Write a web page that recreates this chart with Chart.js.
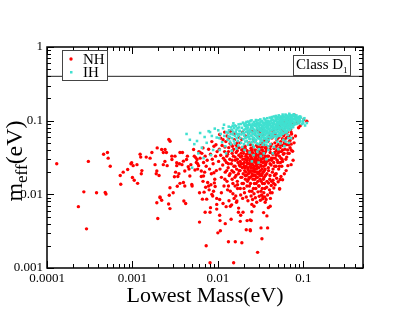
<!DOCTYPE html>
<html>
<head>
<meta charset="utf-8">
<script src="https://cdn.jsdelivr.net/npm/chart.js@4.4.0/dist/chart.umd.min.js"></script>
<style>
  html, body { margin: 0; padding: 0; background: #fff; }
  #wrap { width: 409px; height: 316px; position: relative; }
</style>
</head>
<body>
<div id="wrap"><canvas id="grafico"></canvas></div>
<script>
// Eixos (valores e rótulos)
const xTickValues = [0.0001, 0.001, 0.01, 0.1];
const xTickLabels = ['0.0001', '0.001', '0.01', '0.1'];
const yTickValues = [0.001, 0.01, 0.1, 1];
const yTickLabels = ['0.001', '0.01', '0.1', '1'];
const seriesNames = ['NH', 'IH'];
const limiteMeff = 0.4;

// [massa mais leve (eV), m_eff (eV)]
const nhPoints = [
  [0.00013,0.026],[0.000233,0.0068],[0.00027,0.0108],[0.00029,0.0034],[0.000305,0.028],[0.00038,0.0105],
  [0.00046,0.035],[0.00048,0.0106],[0.00049,0.0101],[0.00051,0.037],[0.00052,0.031],[0.00055,0.024],
  [0.00072,0.018],[0.00073,0.0137],[0.00078,0.020],[0.00088,0.0217],[0.00096,0.026],[0.0010,0.0169],
  [0.00102,0.0245],[0.00098,0.0268],[0.00113,0.0253],[0.00115,0.0141],[0.00105,0.0155],[0.00123,0.035],
  [0.00125,0.032],[0.00129,0.021],[0.00127,0.019],[0.00145,0.032],[0.00161,0.031],[0.00169,0.037],
  [0.00184,0.0253],[0.00193,0.0077],[0.00195,0.0427],[0.00198,0.0047],[0.00193,0.0207],[0.0019,0.019],
  [0.00205,0.018],[0.00211,0.009],[0.0022,0.0083],[0.0022,0.0406],[0.0021,0.0092],[0.0023,0.037],
  [0.0023,0.0253],[0.0024,0.028],[0.00241,0.0406],[0.0025,0.037],[0.00255,0.0245],[0.00265,0.0074],
  [0.00267,0.0554],[0.0027,0.0097],[0.00275,0.0064],[0.00275,0.0123],[0.00276,0.0526],[0.00289,0.033],
  [0.0029,0.0297],[0.0030,0.0105],[0.0031,0.0173],[0.00315,0.033],[0.0032,0.020],[0.0033,0.0245],
  [0.0033,0.0268],[0.00335,0.0129],[0.00355,0.026],[0.0036,0.0141],[0.0036,0.037],[0.0035,0.019],
  [0.0034,0.0175],[0.00385,0.037],[0.0038,0.0253],[0.00395,0.0282],[0.00395,0.0145],[0.0040,0.0081],
  [0.0041,0.0207],[0.0041,0.013],[0.0042,0.0075],[0.0043,0.0297],[0.0044,0.033],[0.0045,0.0237],
  [0.0046,0.022],[0.0047,0.0177],[0.00483,0.0253],[0.00495,0.0136],[0.0050,0.013],[0.0052,0.0406],
  [0.0053,0.033],[0.0054,0.0214],[0.0055,0.0315],[0.0057,0.0297],[0.0058,0.026],[0.00595,0.0245],
  [0.0061,0.0042],[0.0062,0.037],[0.0064,0.0207],[0.0066,0.0086],[0.0067,0.0427],[0.0068,0.0177],
  [0.0069,0.0107],[0.0071,0.0057],[0.0073,0.002],[0.0074,0.0086],[0.0078,0.013],[0.0081,0.00118],
  [0.0082,0.0066],[0.0085,0.010],[0.0090,0.0196],[0.0091,0.0143],[0.0097,0.0073],[0.010,0.003],
  [0.0105,0.0052],[0.0107,0.0032],
  [0.0153,0.00118],[0.0133,0.00227],[0.016,0.00227],[0.0191,0.0022],[0.0215,0.0033],[0.024,0.0032],
  [0.0292,0.00163],[0.0106,0.0044],[0.0122,0.004],[0.0143,0.0046],[0.0183,0.0043],[0.0197,0.0057],
  [0.025,0.0058],[0.0246,0.0044],[0.022,0.0044],[0.0328,0.0025],[0.0382,0.0035],[0.032,0.0035],
  [0.0239,0.0045],[0.0239,0.0033],
  [0.0081,0.0057],[0.0097,0.0063],[0.014,0.0069],[0.0167,0.0081],[0.0174,0.0057],[0.0185,0.0052],
  [0.0343,0.00565],[0.0375,0.0051],[0.039,0.0066],[0.0358,0.0078],[0.041,0.0069],[0.0265,0.0069],
  [0.025,0.0073],[0.0337,0.0093],[0.0367,0.0085],[0.0528,0.0119],[0.0412,0.0105],[0.045,0.0141],
  [0.0537,0.0159],[0.047,0.0187],[0.056,0.0241],[0.072,0.0253],[0.076,0.029],
  [0.0062,0.031],[0.0065,0.036],[0.0068,0.027],[0.0071,0.033],[0.0073,0.024],[0.0075,0.029],
  [0.0078,0.041],[0.0080,0.022],[0.0082,0.035],[0.0084,0.019],[0.0086,0.030],[0.0088,0.026],
  [0.0090,0.045],[0.0092,0.016],[0.0094,0.033],[0.0096,0.021],[0.0098,0.038],[0.0067,0.015],
  [0.0072,0.0125],[0.0079,0.0115],[0.0087,0.0095],[0.0093,0.0128],[0.0064,0.0175],[0.0070,0.020],
  [0.0076,0.0145],[0.0083,0.0135],[0.0089,0.011],[0.0097,0.0088],[0.0061,0.0105],[0.0058,0.022],
  [0.0056,0.027],[0.0060,0.038],
  [0.0102,0.028],[0.0104,0.041],[0.0106,0.022],[0.0108,0.034],[0.0110,0.017],[0.0112,0.046],
  [0.0114,0.025],[0.0116,0.031],[0.0118,0.013],[0.0120,0.038],[0.0122,0.020],[0.0124,0.052],
  [0.0126,0.027],[0.0128,0.015],[0.0130,0.035],[0.0132,0.023],[0.0134,0.043],[0.0136,0.018],
  [0.0138,0.030],[0.0140,0.011],[0.0142,0.048],[0.0144,0.026],[0.0146,0.021],[0.0148,0.039],
  [0.0150,0.014],[0.0152,0.033],[0.0154,0.024],[0.0156,0.055],[0.0158,0.017],[0.0160,0.029],
  [0.0162,0.0095],[0.0164,0.037],[0.0166,0.022],[0.0168,0.044],[0.0170,0.012],[0.0172,0.027],
  [0.0174,0.019],[0.0176,0.034],[0.0178,0.025],[0.0105,0.0085],[0.0115,0.0075],[0.0125,0.0068],
  [0.0135,0.0082],[0.0145,0.0072],[0.0155,0.0088],[0.0165,0.0078],[0.0175,0.0065],[0.0110,0.0105],
  [0.0130,0.0115],[0.0150,0.0102],[0.0170,0.0135],[0.0108,0.058],[0.0128,0.062],[0.0148,0.045],
  [0.0168,0.050],
  [0.0182,0.021],[0.0184,0.032],[0.0186,0.017],[0.0188,0.026],[0.0190,0.040],[0.0192,0.014],
  [0.0194,0.023],[0.0196,0.030],[0.0198,0.019],[0.0200,0.036],[0.0202,0.012],[0.0204,0.027],
  [0.0206,0.021],[0.0208,0.045],[0.0210,0.016],[0.0212,0.033],[0.0214,0.024],[0.0216,0.018],
  [0.0218,0.029],[0.0220,0.039],[0.0222,0.015],[0.0224,0.022],[0.0226,0.031],[0.0228,0.019],
  [0.0230,0.026],[0.0232,0.050],[0.0234,0.013],[0.0236,0.035],[0.0238,0.020],[0.0240,0.028],
  [0.0242,0.017],[0.0244,0.042],[0.0246,0.023],[0.0248,0.031],[0.0250,0.011],[0.0252,0.019],
  [0.0254,0.037],[0.0256,0.025],[0.0258,0.016],[0.0260,0.029],[0.0262,0.055],[0.0264,0.021],
  [0.0266,0.033],[0.0268,0.014],[0.0270,0.024],[0.0272,0.040],[0.0274,0.018],[0.0276,0.027],
  [0.0278,0.012],[0.0280,0.034],[0.0282,0.022],[0.0284,0.046],[0.0286,0.017],[0.0288,0.030],
  [0.0290,0.020],[0.0292,0.038],[0.0294,0.015],[0.0296,0.026],[0.0298,0.060],[0.0300,0.023],
  [0.0302,0.032],[0.0304,0.013],[0.0306,0.019],[0.0308,0.043],[0.0310,0.028],[0.0312,0.016],
  [0.0314,0.036],[0.0316,0.021],[0.0318,0.025],[0.0320,0.011],[0.0322,0.050],[0.0324,0.030],
  [0.0326,0.018],[0.0328,0.034],[0.0330,0.022],[0.0332,0.040],[0.0334,0.014],[0.0336,0.027],
  [0.0338,0.065],[0.0340,0.020],[0.0342,0.031],[0.0344,0.024],[0.0346,0.047],[0.0348,0.017],
  [0.0350,0.036],[0.0352,0.028],[0.0354,0.012],[0.0356,0.055],[0.0358,0.022],[0.0360,0.033],
  [0.0185,0.0098],[0.0195,0.0088],[0.0205,0.0105],[0.0215,0.0092],[0.0225,0.0082],[0.0235,0.0110],
  [0.0245,0.0095],[0.0255,0.0085],[0.0265,0.0102],[0.0275,0.0090],[0.0285,0.0078],[0.0295,0.0108],
  [0.0305,0.0094],[0.0315,0.0083],[0.0325,0.0098],[0.0335,0.0087],[0.0345,0.0105],[0.0355,0.0092],
  [0.0190,0.056],[0.0210,0.062],[0.0230,0.068],[0.0250,0.072],[0.0270,0.066],[0.0290,0.075],
  [0.0310,0.070],[0.0330,0.078],
  [0.0203,0.024],[0.0213,0.020],[0.0223,0.026],[0.0233,0.017],[0.0243,0.021],[0.0253,0.027],
  [0.0263,0.018],[0.0273,0.022],[0.0283,0.026],[0.0293,0.019],[0.0207,0.030],[0.0217,0.035],
  [0.0227,0.023],[0.0237,0.029],[0.0247,0.026],[0.0257,0.021],[0.0267,0.029],[0.0277,0.032],
  [0.0287,0.024],[0.0297,0.029],[0.0187,0.036],[0.0197,0.043],[0.0239,0.038],[0.0259,0.044],
  [0.0279,0.039],[0.0299,0.034],[0.0319,0.040],[0.0339,0.037],[0.0359,0.043],
  [0.0365,0.026],[0.0370,0.041],[0.0375,0.019],[0.0380,0.033],[0.0385,0.052],[0.0390,0.023],
  [0.0395,0.029],[0.0400,0.064],[0.0405,0.016],[0.0410,0.037],[0.0415,0.045],[0.0420,0.025],
  [0.0425,0.031],[0.0430,0.058],[0.0435,0.020],[0.0440,0.035],[0.0445,0.072],[0.0450,0.027],
  [0.0455,0.042],[0.0460,0.018],[0.0465,0.050],[0.0470,0.031],[0.0475,0.066],[0.0480,0.024],
  [0.0485,0.039],[0.0490,0.055],[0.0495,0.029],[0.0500,0.078],[0.0505,0.036],[0.0510,0.047],
  [0.0515,0.022],[0.0520,0.060],[0.0525,0.033],[0.0530,0.085],[0.0535,0.043],[0.0540,0.027],
  [0.0545,0.052],[0.0550,0.068],[0.0555,0.038],[0.0560,0.090],[0.0565,0.030],[0.0570,0.057],
  [0.0575,0.046],[0.0580,0.074],[0.0585,0.035],[0.0590,0.063],[0.0595,0.095],[0.0600,0.050],
  [0.0610,0.041],[0.0620,0.080],[0.0630,0.058],[0.0640,0.032],[0.0650,0.070],[0.0660,0.088],
  [0.0670,0.047],[0.0680,0.062],[0.0690,0.100],[0.0700,0.054],[0.0710,0.076],[0.0720,0.040],
  [0.0730,0.066],[0.0740,0.093],[0.0750,0.058],
  [0.0372,0.0125],[0.0382,0.0098],[0.0392,0.0142],[0.0402,0.0115],[0.0412,0.0088],[0.0422,0.0132],
  [0.0432,0.0105],[0.0442,0.0155],[0.0452,0.0122],[0.0468,0.0135],[0.0488,0.0165],[0.0508,0.0148],
  [0.0528,0.0118],[0.0548,0.0175],[0.0572,0.0158],[0.0600,0.0190],[0.0630,0.0210],[0.0660,0.0245],
  [0.0785,0.120],[0.101,0.103],[0.110,0.098],[0.0838,0.093],[0.088,0.080],[0.081,0.062],
  [0.078,0.050],[0.075,0.0385],[0.092,0.085],[0.070,0.043],[0.066,0.036],
  // núcleo denso
  [0.0121,0.016],[0.0121,0.029],[0.0121,0.044],[0.0127,0.021],[0.0127,0.033],[0.0133,0.013],
  [0.0133,0.026],[0.0133,0.038],[0.0139,0.019],[0.0139,0.049],[0.0147,0.016],[0.0147,0.029],
  [0.0147,0.036],[0.0153,0.020],[0.0153,0.041],[0.0159,0.013],[0.0159,0.024],[0.0159,0.032],
  [0.0163,0.018],[0.0163,0.047],[0.0169,0.015],[0.0169,0.030],[0.0169,0.039],[0.0177,0.021],
  [0.0177,0.043],[0.0183,0.012],[0.0183,0.024],[0.0183,0.028],[0.0183,0.050],[0.0191,0.017],
  [0.0191,0.033],[0.0199,0.014],[0.0199,0.026],[0.0199,0.039],[0.0209,0.018],[0.0209,0.023],
  [0.0209,0.042],[0.0219,0.013],[0.0219,0.027],[0.0219,0.032],[0.0229,0.016],[0.0229,0.021],
  [0.0229,0.037],[0.0241,0.014],[0.0241,0.024],[0.0241,0.033],[0.0241,0.047],[0.0251,0.018],
  [0.0251,0.029],[0.0251,0.040],[0.0261,0.012],[0.0261,0.023],[0.0261,0.035],[0.0271,0.016],
  [0.0271,0.020],[0.0271,0.030],[0.0271,0.052],[0.0281,0.014],[0.0281,0.028],[0.0281,0.037],
  [0.0291,0.017],[0.0291,0.023],[0.0291,0.044],[0.0301,0.013],[0.0301,0.020],[0.0301,0.027],
  [0.0301,0.039],[0.0311,0.018],[0.0311,0.032],[0.0311,0.048],[0.0321,0.015],[0.0321,0.024],
  [0.0321,0.028],[0.0331,0.012],[0.0331,0.019],[0.0331,0.035],[0.0331,0.044],[0.0341,0.016],
  [0.0341,0.027],[0.0341,0.053],[0.0351,0.014],[0.0351,0.021],[0.0351,0.031],[0.0361,0.018],
  [0.0361,0.025],[0.0361,0.038],[0.0376,0.015],[0.0376,0.028],[0.0376,0.045],[0.0392,0.021],
  [0.0392,0.033],[0.0392,0.058],[0.0408,0.018],[0.0408,0.026],[0.0408,0.041],[0.0425,0.015],
  [0.0425,0.029],[0.0425,0.048],[0.0443,0.022],[0.0443,0.031],[0.0443,0.062],[0.0462,0.024],
  [0.0462,0.037],[0.0482,0.019],[0.0482,0.034],[0.0482,0.045],[0.0503,0.027],[0.0503,0.041],
  [0.0503,0.058],[0.0525,0.024],[0.0525,0.038],[0.0548,0.031],[0.0548,0.047],[0.0548,0.075],
  [0.0572,0.028],[0.0572,0.040],[0.0597,0.036],[0.0597,0.055],[0.0625,0.030],[0.0625,0.047],
  [0.0625,0.068],[0.0655,0.040],[0.0655,0.060],[0.0685,0.036],[0.0685,0.052],[0.0685,0.085],
  [0.0720,0.048],[0.0720,0.070],
  [0.0085,0.052],[0.0095,0.047],[0.0105,0.065],[0.0115,0.055],[0.0135,0.058],[0.0155,0.066],
  [0.0175,0.060],[0.0195,0.070],[0.0120,0.070],[0.0140,0.072]
];

const ihPoints = [
  [0.0043,0.066],[0.0047,0.055],[0.0050,0.023],[0.0053,0.048],[0.0057,0.053],[0.0062,0.068],
  [0.0065,0.043],[0.0070,0.060],[0.0074,0.050],[0.0078,0.072],[0.0081,0.070],[0.0085,0.062],
  [0.0088,0.040],[0.0092,0.078],[0.0097,0.059],[0.0059,0.036],[0.0068,0.031],[0.0083,0.034],
  [0.0101,0.074],[0.0104,0.058],[0.0108,0.066],[0.0112,0.051],[0.0115,0.079],[0.0119,0.062],
  [0.0122,0.045],[0.0126,0.070],[0.0130,0.055],[0.0134,0.083],[0.0138,0.060],[0.0142,0.048],
  [0.0146,0.075],[0.0150,0.065],[0.0154,0.053],[0.0158,0.086],[0.0162,0.070],[0.0166,0.058],
  [0.0170,0.079],[0.0174,0.046],[0.0178,0.066],[0.0105,0.040],[0.0125,0.036],[0.0145,0.039],
  [0.0165,0.042],[0.0118,0.088],[0.0152,0.092],
  [0.0181,0.072],[0.0183,0.058],[0.0185,0.090],[0.0187,0.050],[0.0189,0.065],[0.0191,0.080],
  [0.0193,0.044],[0.0195,0.069],[0.0197,0.094],[0.0199,0.056],[0.0201,0.075],[0.0204,0.062],
  [0.0207,0.085],[0.0210,0.052],[0.0213,0.070],[0.0216,0.096],[0.0219,0.060],[0.0222,0.078],
  [0.0225,0.047],[0.0228,0.066],[0.0231,0.088],[0.0234,0.057],[0.0237,0.074],[0.0240,0.099],
  [0.0243,0.063],[0.0246,0.082],[0.0249,0.051],[0.0252,0.069],[0.0255,0.091],[0.0258,0.059],
  [0.0261,0.077],[0.0264,0.044],[0.0267,0.066],[0.0270,0.085],[0.0273,0.055],[0.0276,0.073],
  [0.0279,0.102],[0.0282,0.062],[0.0285,0.080],[0.0288,0.049],[0.0291,0.069],[0.0294,0.092],
  [0.0297,0.058],[0.0300,0.076],[0.0304,0.041],[0.0308,0.065],[0.0312,0.087],[0.0316,0.054],
  [0.0320,0.072],[0.0324,0.098],[0.0328,0.061],[0.0332,0.081],[0.0336,0.047],[0.0340,0.068],
  [0.0344,0.090],[0.0348,0.057],[0.0352,0.075],[0.0356,0.104],[0.0360,0.064],[0.0364,0.083],
  [0.0368,0.052],[0.0372,0.070],[0.0376,0.094],[0.0380,0.060],[0.0384,0.078],[0.0388,0.045],
  [0.0392,0.066],[0.0396,0.087],
  [0.0205,0.040],[0.0235,0.037],[0.0262,0.034],[0.0290,0.038],[0.0318,0.033],[0.0345,0.036],
  [0.0370,0.030],[0.0250,0.028],[0.0300,0.027],
  [0.0215,0.083],[0.0245,0.071],[0.0275,0.064],[0.0305,0.083],[0.0335,0.072],[0.0365,0.073],
  [0.0395,0.076],[0.0225,0.073],[0.0255,0.080],[0.0285,0.090],[0.0315,0.095],[0.0345,0.080],
  [0.0375,0.085],[0.0230,0.060],[0.0260,0.054],[0.0290,0.060],[0.0320,0.057],[0.0350,0.063],
  [0.0380,0.068],
  [0.0402,0.097],[0.0408,0.072],[0.0414,0.058],[0.0420,0.084],[0.0426,0.105],[0.0432,0.066],
  [0.0438,0.090],[0.0444,0.076],[0.0450,0.061],[0.0456,0.099],[0.0462,0.081],[0.0468,0.069],
  [0.0474,0.108],[0.0480,0.088],[0.0486,0.074],[0.0492,0.095],[0.0498,0.063],[0.0504,0.083],
  [0.0510,0.112],[0.0516,0.077],[0.0522,0.093],[0.0528,0.068],[0.0534,0.101],[0.0540,0.086],
  [0.0546,0.072],[0.0552,0.110],[0.0558,0.091],[0.0564,0.080],[0.0570,0.098],[0.0576,0.066],
  [0.0582,0.115],[0.0588,0.087],[0.0594,0.075],[0.0600,0.104],[0.0608,0.092],[0.0616,0.081],
  [0.0624,0.118],[0.0632,0.097],[0.0640,0.070],[0.0648,0.108],[0.0656,0.089],[0.0664,0.078],
  [0.0672,0.114],[0.0680,0.095],[0.0688,0.084],[0.0696,0.120],[0.0704,0.102],[0.0712,0.088],
  [0.0720,0.111],[0.0730,0.096],[0.0740,0.118],[0.0750,0.082],[0.0760,0.106],[0.0772,0.122],
  [0.0785,0.093],[0.0800,0.112],[0.0815,0.101],[0.0830,0.118],[0.0850,0.107],[0.0870,0.095],
  [0.0890,0.113],[0.0910,0.102],[0.0940,0.110],[0.0960,0.090],[0.0985,0.098],[0.105,0.086],
  [0.110,0.093],
  [0.0412,0.091],[0.0436,0.079],[0.0460,0.089],[0.0484,0.082],[0.0508,0.097],[0.0532,0.080],
  [0.0556,0.101],[0.0580,0.094],[0.0604,0.085],[0.0628,0.104],[0.0652,0.098],[0.0676,0.105],
  [0.0700,0.094],[0.0725,0.102],[0.0418,0.064],[0.0448,0.069],[0.0478,0.057],[0.0520,0.062],
  [0.0560,0.066],[0.0610,0.073],[0.0660,0.064],[0.0700,0.075],
  // miolo denso da faixa IH
  [0.0131,0.068],[0.0135,0.074],[0.0139,0.052],[0.0143,0.081],[0.0147,0.058],[0.0151,0.071],
  [0.0155,0.079],[0.0159,0.062],[0.0163,0.084],[0.0167,0.066],[0.0171,0.053],[0.0175,0.089],
  [0.0179,0.073],[0.0133,0.061],[0.0141,0.066],[0.0149,0.085],[0.0157,0.049],[0.0165,0.075],
  [0.0173,0.062],[0.0177,0.081],
  [0.0202,0.048],[0.0202,0.067],[0.0202,0.089],[0.0211,0.058],[0.0211,0.077],[0.0211,0.092],
  [0.0218,0.053],[0.0218,0.071],[0.0218,0.087],[0.0226,0.063],[0.0226,0.081],[0.0226,0.097],
  [0.0233,0.050],[0.0233,0.069],[0.0233,0.092],[0.0241,0.056],[0.0241,0.077],[0.0241,0.088],
  [0.0248,0.062],[0.0248,0.084],[0.0248,0.101],[0.0257,0.047],[0.0257,0.066],[0.0257,0.087],
  [0.0265,0.058],[0.0265,0.074],[0.0265,0.096],[0.0272,0.051],[0.0272,0.069],[0.0272,0.090],
  [0.0281,0.055],[0.0281,0.072],[0.0281,0.085],[0.0281,0.098],[0.0289,0.062],[0.0289,0.078],
  [0.0289,0.094],[0.0298,0.048],[0.0298,0.067],[0.0298,0.086],[0.0298,0.101],[0.0307,0.057],
  [0.0307,0.074],[0.0307,0.091],[0.0314,0.050],[0.0314,0.064],[0.0314,0.079],[0.0314,0.104],
  [0.0323,0.059],[0.0323,0.076],[0.0323,0.088],[0.0331,0.053],[0.0331,0.066],[0.0331,0.085],
  [0.0331,0.099],[0.0339,0.060],[0.0339,0.078],[0.0339,0.094],[0.0347,0.050],[0.0347,0.070],
  [0.0347,0.086],[0.0347,0.107],[0.0355,0.058],[0.0355,0.073],[0.0355,0.093],[0.0363,0.047],
  [0.0363,0.067],[0.0363,0.089],[0.0363,0.100],[0.0371,0.056],[0.0371,0.079],[0.0371,0.097],
  [0.0379,0.051],[0.0379,0.072],[0.0379,0.090],[0.0379,0.108],[0.0387,0.061],[0.0387,0.082],
  [0.0387,0.099],[0.0394,0.055],[0.0394,0.069],[0.0394,0.093],
  [0.0405,0.060],[0.0405,0.078],[0.0405,0.088],[0.0405,0.110],[0.0417,0.067],[0.0417,0.083],
  [0.0417,0.100],[0.0429,0.059],[0.0429,0.075],[0.0429,0.094],[0.0429,0.112],[0.0441,0.064],
  [0.0441,0.085],[0.0441,0.103],[0.0453,0.070],[0.0453,0.080],[0.0453,0.094],[0.0453,0.114],
  [0.0466,0.062],[0.0466,0.076],[0.0466,0.099],[0.0479,0.068],[0.0479,0.085],[0.0479,0.102],
  [0.0479,0.116],[0.0491,0.060],[0.0491,0.079],[0.0491,0.090],[0.0491,0.108],[0.0503,0.071],
  [0.0503,0.088],[0.0503,0.104],[0.0517,0.065],[0.0517,0.082],[0.0517,0.096],[0.0517,0.118],
  [0.0531,0.074],[0.0531,0.091],[0.0531,0.108],[0.0544,0.063],[0.0544,0.079],[0.0544,0.097],
  [0.0544,0.114],[0.0558,0.071],[0.0558,0.086],[0.0558,0.105],[0.0573,0.077],[0.0573,0.093],
  [0.0573,0.110],[0.0573,0.121],[0.0587,0.068],[0.0587,0.083],[0.0587,0.101],[0.0603,0.076],
  [0.0603,0.090],[0.0603,0.112],[0.0619,0.069],[0.0619,0.087],[0.0619,0.099],[0.0619,0.121],
  [0.0634,0.079],[0.0634,0.093],[0.0634,0.110],[0.0651,0.073],[0.0651,0.085],[0.0651,0.103],
  [0.0651,0.117],[0.0668,0.082],[0.0668,0.097],[0.0668,0.109],[0.0685,0.076],[0.0685,0.090],
  [0.0685,0.106],[0.0685,0.124],[0.0703,0.084],[0.0703,0.098],[0.0703,0.115],[0.0722,0.079],
  [0.0722,0.092],[0.0722,0.107],[0.0741,0.087],[0.0741,0.101],[0.0741,0.113],[0.0762,0.082],
  [0.0762,0.096],[0.0762,0.116],[0.0783,0.088],[0.0783,0.104],[0.0783,0.119],[0.0805,0.094],
  [0.0805,0.108],[0.0830,0.090],[0.0830,0.104],[0.0830,0.113],[0.0858,0.098],[0.0858,0.110],
  [0.0885,0.092],[0.0885,0.105],[0.0920,0.097],[0.0920,0.114],[0.1000,0.102],[0.1000,0.092],
  [0.1030,0.108],
  [0.0412,0.048],[0.0455,0.044],[0.0498,0.052],[0.0540,0.049],[0.0585,0.055],[0.0622,0.052],
  [0.0670,0.058],[0.0390,0.040],[0.0440,0.036],[0.0510,0.041],[0.0600,0.045],[0.0680,0.050],
  [0.0720,0.058]
];

const FONTE = "'Liberation Serif', 'Times New Roman', serif";
const COR_NH = '#ff0000';
const COR_IH = '#40e0d0';

// Moldura estilo xmgrace: caixa, ticks para dentro, linha de 0.4 eV, legendas em caixa
const molduraGrace = {
    id: 'molduraGrace',
    beforeDatasetsDraw(chart) {
        const { ctx, chartArea: a, scales } = chart;
        const py = scales.y.getPixelForValue(limiteMeff);
        ctx.save();
        ctx.strokeStyle = '#222';
        ctx.lineWidth = 1;
        ctx.beginPath();
        ctx.moveTo(a.left, py);
        ctx.lineTo(a.right, py);
        ctx.stroke();
        ctx.restore();
    },
    afterDatasetsDraw(chart) {
        const { ctx, chartArea: a, scales } = chart;
        const sx = scales.x, sy = scales.y;
        ctx.save();

        // ticks menores e maiores nos quatro lados
        ctx.strokeStyle = '#000';
        ctx.lineWidth = 1;
        ctx.beginPath();
        for (let d = 1e-5; d <= 1; d *= 10) {
            for (let m = 1; m <= 9; m++) {
                const v = m * d;
                const len = m === 1 ? 7 : 4;
                if (v >= sx.min * 0.999 && v <= sx.max * 1.001) {
                    const px = Math.round(sx.getPixelForValue(v)) + 0.5;
                    ctx.moveTo(px, a.bottom); ctx.lineTo(px, a.bottom - len);
                    ctx.moveTo(px, a.top); ctx.lineTo(px, a.top + len);
                }
                if (v >= sy.min * 0.999 && v <= sy.max * 1.001) {
                    const py = Math.round(sy.getPixelForValue(v)) + 0.5;
                    ctx.moveTo(a.left, py); ctx.lineTo(a.left + len, py);
                    ctx.moveTo(a.right, py); ctx.lineTo(a.right - len, py);
                }
            }
        }
        ctx.stroke();

        ctx.lineWidth = 1.5;
        ctx.strokeRect(a.left, a.top, a.right - a.left, a.bottom - a.top);

        // legenda NH / IH
        ctx.fillStyle = '#fff';
        ctx.fillRect(62, 50, 45, 30);
        ctx.strokeStyle = '#444';
        ctx.lineWidth = 1;
        ctx.strokeRect(62.5, 50.5, 45, 30);
        ctx.fillStyle = COR_NH;
        ctx.beginPath(); ctx.arc(71, 59, 1.7, 0, Math.PI * 2); ctx.fill();
        ctx.fillStyle = COR_IH;
        ctx.fillRect(70, 71, 2.5, 2.5);
        ctx.fillStyle = '#000';
        ctx.font = '15px ' + FONTE;
        ctx.textBaseline = 'alphabetic';
        ctx.textAlign = 'left';
        ctx.fillText(seriesNames[0], 83, 64);
        ctx.fillText(seriesNames[1], 83, 77);

        // caixa "Class D1"
        ctx.fillStyle = '#fff';
        ctx.fillRect(293, 55, 58, 20);
        ctx.strokeStyle = '#444';
        ctx.strokeRect(293.5, 55.5, 57, 20);
        ctx.fillStyle = '#000';
        ctx.font = '15px ' + FONTE;
        ctx.fillText('Class D', 296, 69);
        const wD = ctx.measureText('Class D').width;
        ctx.font = '9px ' + FONTE;
        ctx.fillText('1', 296 + wD, 73);

        // título do eixo y com subscrito
        ctx.translate(22, 161);
        ctx.rotate(-Math.PI / 2);
        ctx.font = '24px ' + FONTE;
        const wM = ctx.measureText('m').width;
        ctx.font = '17px ' + FONTE;
        const wEff = ctx.measureText('eff').width;
        ctx.font = '24px ' + FONTE;
        const wEv = ctx.measureText('(eV)').width;
        const x0 = -(wM + wEff + wEv) / 2;
        ctx.fillText('m', x0, 0);
        ctx.font = '17px ' + FONTE;
        ctx.fillText('eff', x0 + wM, 5);
        ctx.font = '24px ' + FONTE;
        ctx.fillText('(eV)', x0 + wM + wEff, 0);
        ctx.restore();
    }
};

const ctx = document.getElementById('grafico');
new Chart(ctx, {
    type: 'scatter',
    data: {
        datasets: [{
            label: seriesNames[0],
            data: nhPoints.map(([x, y]) => ({ x, y })),
            backgroundColor: COR_NH,
            pointStyle: 'circle',
            pointRadius: 1.7,
            pointBorderWidth: 0,
            order: 2
        }, {
            label: seriesNames[1],
            data: ihPoints.map(([x, y]) => ({ x, y })),
            backgroundColor: COR_IH,
            pointStyle: 'rect',
            pointRadius: 1.8,
            pointBorderWidth: 0,
            order: 1
        }]
    },
    options: {
        responsive: true,
        maintainAspectRatio: false,
        animation: false,
        events: [],
        layout: { padding: { top: 47, right: 46, left: 0, bottom: 0 } },
        plugins: {
            legend: { display: false },
            tooltip: { enabled: false },
            title: { display: false }
        },
        scales: {
            x: {
                type: 'logarithmic',
                min: 0.0001,
                max: 0.5,
                grid: { display: false, drawTicks: false },
                border: { display: false },
                afterBuildTicks: (scale) => {
                    scale.ticks = xTickValues.map(v => ({ value: v }));
                },
                afterFit: (scale) => { scale.height = 48; },
                ticks: {
                    autoSkip: false,
                    maxRotation: 0,
                    padding: 3,
                    color: '#000',
                    font: { family: FONTE, size: 13 },
                    callback: (value) => {
                        const i = xTickValues.findIndex(v => Math.abs(v - value) / v < 1e-6);
                        return i >= 0 ? xTickLabels[i] : '';
                    }
                },
                title: {
                    display: true,
                    text: 'Lowest Mass(eV)',
                    color: '#000',
                    font: { family: FONTE, size: 22 },
                    padding: { top: 0, bottom: 7 }
                }
            },
            y: {
                type: 'logarithmic',
                min: 0.001,
                max: 1,
                grid: { display: false, drawTicks: false },
                border: { display: false },
                afterBuildTicks: (scale) => {
                    scale.ticks = yTickValues.map(v => ({ value: v }));
                },
                afterFit: (scale) => { scale.width = 47; },
                ticks: {
                    autoSkip: false,
                    padding: 4,
                    color: '#000',
                    font: { family: FONTE, size: 13 },
                    callback: (value) => {
                        const i = yTickValues.findIndex(v => Math.abs(v - value) / v < 1e-6);
                        return i >= 0 ? yTickLabels[i] : '';
                    }
                }
            }
        }
    },
    plugins: [molduraGrace]
});
</script>
</body>
</html>
